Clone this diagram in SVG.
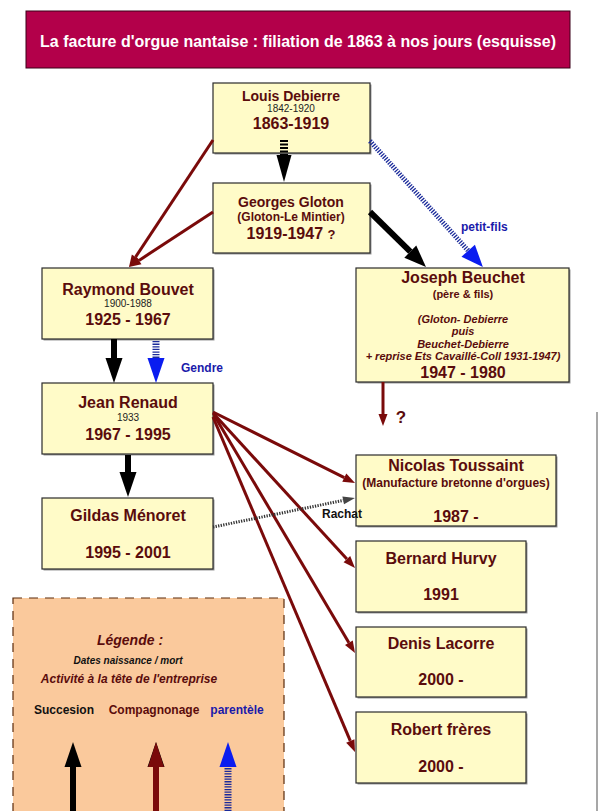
<svg xmlns="http://www.w3.org/2000/svg" width="600" height="811" viewBox="0 0 600 811">
<style>
  .box{fill:#FFFBC8;stroke:#2b2b2b;stroke-width:1.2}
  .shadow{fill:#9a9a9a}
  text{font-family:"Liberation Sans",Arial,sans-serif;font-weight:bold;fill:#5a0c0c;text-anchor:middle}
  .small{font-weight:normal;fill:#222;font-size:10px}
  .it{font-style:italic}
  .brown{stroke:#7a0a0a;stroke-width:3;fill:none}
  .black{stroke:#000;stroke-width:6;fill:none}
  .bstripe{stroke:#1a2a9a;stroke-width:6;stroke-dasharray:1.3 1.3;fill:none}
  .kstripe{stroke:#000;stroke-width:8;stroke-dasharray:2 1.5;fill:none}
  .dot{stroke:#333;stroke-width:3;stroke-dasharray:1.3 1.3;fill:none}
</style>
<defs>
  <marker id="mBrown" markerUnits="userSpaceOnUse" markerWidth="13" markerHeight="10" refX="0" refY="4.5" orient="auto" overflow="visible">
    <path d="M0,0 L12,4.5 L0,9 z" fill="#7a0a0a"/>
  </marker>
  <marker id="mBlack" markerUnits="userSpaceOnUse" markerWidth="26" markerHeight="18" refX="0" refY="8.5" orient="auto" overflow="visible">
    <path d="M0,0 L25,8.5 L0,17 z" fill="#000"/>
  </marker>
  <marker id="mBlackD" markerUnits="userSpaceOnUse" markerWidth="23" markerHeight="18" refX="0" refY="8.5" orient="auto" overflow="visible">
    <path d="M0,0 L22,8.5 L0,17 z" fill="#000"/>
  </marker>
  <marker id="mBlue" markerUnits="userSpaceOnUse" markerWidth="26" markerHeight="18" refX="0" refY="8.5" orient="auto" overflow="visible">
    <path d="M0,0 L25,8.5 L0,17 z" fill="#0a1cf0"/>
  </marker>
  <marker id="mBlueD" markerUnits="userSpaceOnUse" markerWidth="23" markerHeight="20" refX="0" refY="9" orient="auto" overflow="visible">
    <path d="M0,0 L22,9 L0,18 z" fill="#0a1cf0"/>
  </marker>
  <marker id="mGray" markerUnits="userSpaceOnUse" markerWidth="13" markerHeight="9" refX="0" refY="4" orient="auto" overflow="visible">
    <path d="M0,0 L12,4 L0,8 z" fill="#444"/>
  </marker>
  <marker id="mKstripe" markerUnits="userSpaceOnUse" markerWidth="28" markerHeight="16" refX="0" refY="7.5" orient="auto" overflow="visible">
    <path d="M0,0 L27,7.5 L0,15 z" fill="#000"/>
  </marker>
</defs>

<rect x="0" y="0" width="600" height="811" fill="#fff"/>
<line x1="597" y1="412" x2="597" y2="811" stroke="#8a8a8a" stroke-width="1.5"/>

<g id="title">
  <rect x="26" y="11" width="544" height="57" fill="#B3004A" stroke="#3a0018" stroke-width="1"/>
  <text x="298" y="47" style="fill:#fff;font-size:16px">La facture d'orgue nantaise : filiation de 1863 à nos jours (esquisse)</text>
</g>

<g id="legend">
  <rect x="13" y="598" width="271" height="220" fill="#FAC99C" stroke="#5a2a0a" stroke-width="1.2" stroke-dasharray="9 7"/>
  <text x="130" y="645" class="it" style="font-size:14px">Légende :</text>
  <text x="128" y="664" class="it" style="font-size:10px;fill:#111">Dates naissance / mort</text>
  <text x="129" y="683" class="it" style="font-size:12px">Activité à la tête de l'entreprise</text>
  <text x="64" y="714" style="font-size:12px;fill:#111">Succesion</text>
  <text x="154" y="714" style="font-size:12px">Compagnonage</text>
  <text x="237" y="714" style="font-size:12px;fill:#1a1aaa">parentèle</text>
  <line x1="73" y1="811" x2="73" y2="767" class="black" marker-end="url(#mBlack)"/>
  <line x1="156" y1="811" x2="156" y2="767" class="brown" style="stroke-width:6" marker-end="url(#mBlack)"/>
  <path d="M148,767 L156,742 L164,767 z" fill="#7a0a0a"/>
  <line x1="228" y1="811" x2="228" y2="767" class="bstripe" style="stroke-width:7"/>
  <path d="M219.5,767 L228,742 L236.5,767 z" fill="#0a1cf0"/>
</g>

<g id="n-debierre">
  <rect x="214.5" y="84.5" width="157" height="70" class="shadow"/>
  <rect x="213" y="83" width="157" height="70" class="box"/>
  <text x="291" y="101" style="font-size:14px">Louis Debierre</text>
  <text x="291" y="112" class="small">1842-1920</text>
  <text x="291" y="129" style="font-size:16px">1863-1919</text>
</g>

<g id="n-gloton">
  <rect x="214.5" y="184.5" width="157" height="70" class="shadow"/>
  <rect x="213" y="183" width="157" height="70" class="box"/>
  <text x="291" y="207" style="font-size:14px">Georges Gloton</text>
  <text x="291" y="221" style="font-size:12px">(Gloton-Le Mintier)</text>
  <text x="291" y="239" style="font-size:16px">1919-1947 <tspan style="font-size:13px">?</tspan></text>
</g>

<g id="n-bouvet">
  <rect x="43.5" y="269.5" width="171" height="71" class="shadow"/>
  <rect x="42" y="268" width="171" height="71" class="box"/>
  <text x="128" y="295" style="font-size:16px">Raymond Bouvet</text>
  <text x="128" y="307" class="small">1900-1988</text>
  <text x="128" y="325" style="font-size:16px">1925 - 1967</text>
</g>

<g id="n-beuchet">
  <rect x="357.5" y="269.5" width="213" height="114" class="shadow"/>
  <rect x="356" y="268" width="213" height="114" class="box"/>
  <text x="463" y="283" style="font-size:16px">Joseph Beuchet</text>
  <text x="463" y="298" style="font-size:11px">(père &amp; fils)</text>
  <text x="463" y="323" class="it" style="font-size:11px">(Gloton- Debierre</text>
  <text x="463" y="335" class="it" style="font-size:11px">puis</text>
  <text x="463" y="348" class="it" style="font-size:11px">Beuchet-Debierre</text>
  <text x="463" y="360" class="it" style="font-size:11px">+ reprise Ets Cavaillé-Coll 1931-1947)</text>
  <text x="463" y="378" style="font-size:16px">1947 - 1980</text>
</g>

<g id="n-renaud">
  <rect x="43.5" y="384.5" width="171" height="71" class="shadow"/>
  <rect x="42" y="383" width="171" height="71" class="box"/>
  <text x="128" y="408" style="font-size:16px">Jean Renaud</text>
  <text x="128" y="421" class="small">1933</text>
  <text x="128" y="440" style="font-size:16px">1967 - 1995</text>
</g>

<g id="n-menoret">
  <rect x="43.5" y="499.5" width="171" height="71" class="shadow"/>
  <rect x="42" y="498" width="171" height="71" class="box"/>
  <text x="128" y="521" style="font-size:16px">Gildas Ménoret</text>
  <text x="128" y="558" style="font-size:16px">1995 - 2001</text>
</g>

<g id="n-toussaint">
  <rect x="357.5" y="456.5" width="200" height="71" class="shadow"/>
  <rect x="356" y="455" width="200" height="71" class="box"/>
  <text x="456" y="471" style="font-size:16px">Nicolas Toussaint</text>
  <text x="456" y="487" style="font-size:12px">(Manufacture bretonne d'orgues)</text>
  <text x="456" y="522" style="font-size:16px">1987 -</text>
</g>

<g id="n-hurvy">
  <rect x="357.5" y="542.5" width="170" height="71" class="shadow"/>
  <rect x="356" y="541" width="170" height="71" class="box"/>
  <text x="441" y="564" style="font-size:16px">Bernard Hurvy</text>
  <text x="441" y="600" style="font-size:16px">1991</text>
</g>

<g id="n-lacorre">
  <rect x="357.5" y="628.5" width="170" height="70" class="shadow"/>
  <rect x="356" y="627" width="170" height="70" class="box"/>
  <text x="441" y="649" style="font-size:16px">Denis Lacorre</text>
  <text x="441" y="685" style="font-size:16px">2000 -</text>
</g>

<g id="n-robert">
  <rect x="357.5" y="713.5" width="170" height="71" class="shadow"/>
  <rect x="356" y="712" width="170" height="71" class="box"/>
  <text x="441" y="735" style="font-size:16px">Robert frères</text>
  <text x="441" y="772" style="font-size:16px">2000 -</text>
</g>

<g id="connectors">
  <!-- Debierre -> Gloton (striped black) -->
  <line x1="284" y1="140" x2="284" y2="155" class="kstripe" marker-end="url(#mKstripe)"/>
  <!-- Debierre -> Bouvet -->
  <line x1="213" y1="140" x2="135.6" y2="257" class="brown" marker-end="url(#mBrown)"/>
  <!-- Gloton -> Bouvet -->
  <line x1="213" y1="212" x2="139" y2="260.4" class="brown" marker-end="url(#mBrown)"/>
  <!-- Debierre -> Beuchet (petit-fils) -->
  <line x1="370" y1="141" x2="468.2" y2="250.7" class="bstripe" style="stroke-width:5" marker-end="url(#mBlueD)"/>
  <text x="461" y="231" style="font-size:12px;fill:#1a1aaa;text-anchor:start">petit-fils</text>
  <!-- Gloton -> Beuchet -->
  <line x1="370" y1="212" x2="410.3" y2="251.6" class="black" marker-end="url(#mBlackD)"/>
  <!-- Bouvet -> Renaud -->
  <line x1="114" y1="339" x2="114" y2="358" class="black" marker-end="url(#mBlack)"/>
  <line x1="156" y1="341" x2="156" y2="358" class="bstripe" style="stroke-width:7" marker-end="url(#mBlue)"/>
  <text x="202" y="372" style="font-size:12px;fill:#1a1aaa">Gendre</text>
  <!-- Renaud -> Menoret -->
  <line x1="128" y1="455" x2="128" y2="472" class="black" marker-end="url(#mBlack)"/>
  <!-- Renaud -> others -->
  <line x1="213" y1="412" x2="344.3" y2="477.6" class="brown" marker-end="url(#mBrown)"/>
  <line x1="213" y1="413" x2="346.9" y2="559.1" class="brown" marker-end="url(#mBrown)"/>
  <line x1="214" y1="415" x2="348.9" y2="642.7" class="brown" marker-end="url(#mBrown)"/>
  <line x1="213" y1="417" x2="350.3" y2="740.9" class="brown" marker-end="url(#mBrown)"/>
  <!-- Menoret -> Toussaint (Rachat) -->
  <line x1="213" y1="527" x2="343.2" y2="500.4" class="dot" marker-end="url(#mGray)"/>
  <text x="342" y="518" style="font-size:12px;fill:#111">Rachat</text>
  <!-- Beuchet -> ? -->
  <line x1="383" y1="382" x2="383" y2="414" class="brown" marker-end="url(#mBrown)"/>
  <text x="401" y="423" style="font-size:17px">?</text>
</g>
</svg>
